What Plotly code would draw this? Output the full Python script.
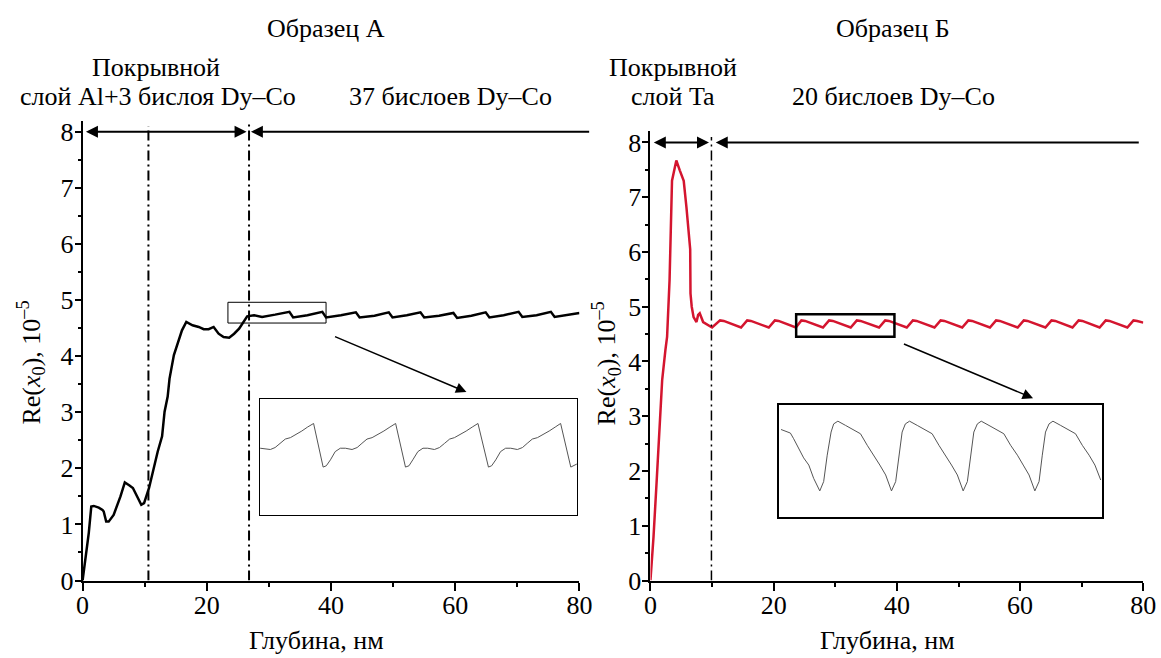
import plotly.graph_objects as go

# ---------------- data ----------------
# Sample A (black)
left_depth = [0, 0.48, 1.0, 1.4, 1.8, 2.6, 3.2, 3.4, 3.8, 4.2,
              5.0, 6.1, 6.8, 7.5, 8.1, 9.45, 9.9, 10.7, 11.5, 12.1,
              12.8, 13.2, 13.7, 14.0, 14.7, 15.3, 16.0, 16.7, 17.7, 18.7,
              19.5, 20.3, 21.1, 21.9, 22.7, 23.6, 24.4, 25.2, 26.0, 26.5,
              27.6, 28.9, 31.0, 33.3, 33.9, 36.2, 38.6, 39.2, 41.6, 44.0,
              44.6, 47.0, 49.3, 49.9, 52.2, 54.4, 55.0, 57.4, 59.7, 60.3,
              62.6, 64.9, 65.5, 67.8, 70.2, 70.8, 73.1, 75.4, 76.0, 78.0,
              80.0]
left_re = [0, 0.43, 0.85, 1.32, 1.33, 1.30, 1.26, 1.23, 1.05, 1.05,
           1.17, 1.5, 1.75, 1.7, 1.65, 1.35, 1.38, 1.65, 2.03, 2.3,
           2.57, 3.01, 3.28, 3.6, 4.02, 4.23, 4.46, 4.61, 4.55, 4.52,
           4.48, 4.48, 4.52, 4.40, 4.34, 4.33, 4.40, 4.49, 4.64, 4.71,
           4.73, 4.70, 4.74, 4.79, 4.69, 4.73, 4.79, 4.69, 4.73, 4.78,
           4.69, 4.72, 4.78, 4.69, 4.73, 4.78, 4.69, 4.72, 4.77, 4.68,
           4.72, 4.78, 4.69, 4.73, 4.79, 4.70, 4.73, 4.79, 4.70, 4.74,
           4.77]

# Sample B (red)
right_depth = [0, 0.5, 1.0, 1.5, 1.9, 2.43, 2.7, 3.1, 3.5, 3.8,
               4.2, 4.76, 5.4, 5.84, 6.45, 6.5, 6.7, 7.0, 7.47, 7.74,
               8.0, 8.55, 9.2, 10.0,
               11.3, 11.9, 14.7, 15.7, 16.3, 19.2, 20.2, 20.8, 23.6,
               24.5, 25.1, 28.0, 29.0, 29.6, 32.5, 33.5, 34.1, 37.1,
               38.1, 38.7, 41.6, 42.6, 43.2, 46.1, 47.1, 47.7, 50.6,
               51.6, 52.2, 55.1, 56.1, 56.7, 59.6, 60.6, 61.2, 64.1,
               65.1, 65.7, 68.5, 69.5, 70.1, 72.9, 73.9, 74.5, 77.4,
               78.4, 79.0, 80.0]
right_re = [0, 0.8, 1.8, 2.9, 3.66, 4.21, 4.45, 5.48, 7.30, 7.46,
            7.67, 7.49, 7.30, 6.82, 6.05, 5.24, 5.0, 4.81, 4.72, 4.85,
            4.88, 4.72, 4.67, 4.62,
            4.75, 4.74, 4.62, 4.75, 4.74, 4.62, 4.75, 4.74, 4.62,
            4.75, 4.74, 4.62, 4.75, 4.74, 4.62, 4.75, 4.74, 4.62,
            4.75, 4.74, 4.62, 4.75, 4.74, 4.62, 4.75, 4.74, 4.62,
            4.75, 4.74, 4.62, 4.75, 4.74, 4.62, 4.75, 4.74, 4.62,
            4.75, 4.74, 4.62, 4.75, 4.74, 4.62, 4.75, 4.74, 4.62,
            4.75, 4.74, 4.71]

# Inset A (zoomed sawtooth, arbitrary units)
inset_a_x = [0.2, 3.4, 4.9, 6.5, 8.1, 9.7, 11.2, 13.3, 15.1, 17.0,
             20.0, 21.0, 22.3, 23.8, 25.4, 27.0, 29.1, 30.7, 32.2, 33.8,
             35.4, 37.0, 39.1, 41.0, 42.8, 45.9, 47.0, 48.2, 49.8, 51.4,
             52.9, 55.0, 56.6, 58.2, 59.8, 61.3, 62.9, 65.0, 66.9, 68.7,
             72.0, 73.0, 74.3, 75.8, 77.4, 79.0, 81.1, 82.7, 84.2, 85.8,
             87.4, 89.0, 91.1, 93.0, 94.7, 97.9, 99.8]
inset_a_y = [5.74, 5.63, 5.80, 6.16, 6.53, 6.65, 6.88, 7.22, 7.56, 7.87,
             4.12, 4.23, 4.74, 5.45, 5.74, 5.74, 5.63, 5.80, 6.16, 6.53,
             6.65, 6.88, 7.22, 7.56, 7.87, 4.12, 4.23, 4.74, 5.45, 5.74,
             5.74, 5.63, 5.80, 6.16, 6.53, 6.65, 6.88, 7.22, 7.56, 7.87,
             4.12, 4.23, 4.74, 5.45, 5.74, 5.74, 5.63, 5.80, 6.16, 6.53,
             6.65, 6.88, 7.22, 7.56, 7.87, 4.12, 4.38]

# Inset B (zoomed sawtooth, arbitrary units)
inset_b_x = [0.5, 3.4, 4.4, 6.0, 7.5, 9.1, 10.6, 12.5, 13.7, 14.8,
             16.0, 16.8, 18.1, 20.5, 23.0, 25.1, 27.2, 29.2, 31.1, 32.9,
             34.7, 36.0, 37.0, 38.0, 39.0, 40.3, 42.7, 45.2, 47.3, 49.4,
             51.4, 53.3, 55.1, 56.9, 58.2, 59.2, 60.2, 61.3, 62.5, 64.9,
             67.5, 69.5, 71.6, 73.7, 75.5, 77.3, 79.1, 80.4, 81.4, 82.4,
             83.5, 84.7, 87.1, 89.7, 91.7, 93.8, 95.9, 97.7, 99.5]
inset_b_y = [7.79, 7.47, 6.97, 6.09, 5.26, 4.62, 3.44, 2.32, 3.15, 5.5,
             7.56, 8.29, 8.53, 8.15, 7.71, 7.41, 6.38, 5.5, 4.62, 3.74,
             2.32, 3.15, 5.5, 7.56, 8.29, 8.53, 8.15, 7.71, 7.41, 6.38,
             5.5, 4.62, 3.74, 2.32, 3.15, 5.5, 7.56, 8.29, 8.53, 8.15,
             7.71, 7.41, 6.38, 5.5, 4.62, 3.74, 2.32, 3.15, 5.5, 7.56,
             8.29, 8.53, 8.15, 7.71, 7.41, 6.38, 5.5, 4.62, 3.29]

x_ticks = [0, 20, 40, 60, 80]
y_ticks = [0, 1, 2, 3, 4, 5, 6, 7, 8]

# ---------------- layout helpers ----------------
W, H = 1161, 658
FONT = "Liberation Serif, Times New Roman, serif"
RED = "#d4152f"
FS = 26
# empirical correction of the photographed page scale
SX, OX = 0.983, 6.4
SY, OY = 0.979, 1.7


def px(x):
    return ((x - OX) / SX) / W


def py(y):
    return 1 - ((y - OY) / SY) / H


fig = go.Figure()
fig.add_trace(go.Scatter(x=left_depth, y=left_re, mode="lines",
                         line=dict(color="black", width=2.5), xaxis="x", yaxis="y"))
fig.add_trace(go.Scatter(x=right_depth, y=right_re, mode="lines",
                         line=dict(color=RED, width=2.5), xaxis="x2", yaxis="y2"))
fig.add_trace(go.Scatter(x=inset_a_x, y=inset_a_y, mode="lines",
                         line=dict(color="#555555", width=1), xaxis="x3", yaxis="y3"))
fig.add_trace(go.Scatter(x=inset_b_x, y=inset_b_y, mode="lines",
                         line=dict(color="#555555", width=1), xaxis="x4", yaxis="y4"))

tickfont = dict(family=FONT, size=FS, color="black")


def main_x(domain, anchor):
    return dict(domain=domain, range=[0, 80], anchor=anchor, showline=True,
                linecolor="black", linewidth=2, ticks="outside", ticklen=8,
                tickwidth=2, tickcolor="black", tickvals=x_ticks,
                ticklabelstandoff=-8,
                minor=dict(dtick=10, tick0=0, ticks="outside", ticklen=4,
                           tickwidth=2, tickcolor="black"),
                showgrid=False, zeroline=False, tickfont=tickfont)


def main_y(domain, anchor):
    return dict(domain=domain, range=[0, 8.2], anchor=anchor, showline=True,
                linecolor="black", linewidth=2, ticks="outside", ticklen=6,
                tickwidth=2, tickcolor="black", tickvals=y_ticks,
                ticklabelstandoff=-4,
                minor=dict(dtick=0.5, tick0=0, ticks="outside", ticklen=3,
                           tickwidth=2, tickcolor="black"),
                showgrid=False, zeroline=False, tickfont=tickfont)


def inset_axis(domain, anchor, rng, lw):
    return dict(domain=domain, range=rng, anchor=anchor, showline=True,
                mirror=True, linecolor="black", linewidth=lw, ticks="",
                showticklabels=False, showgrid=False, zeroline=False)


fig.update_layout(
    width=W, height=H, margin=dict(l=0, r=0, t=0, b=0, pad=0),
    autosize=False,
    paper_bgcolor="white", plot_bgcolor="white", showlegend=False,
    font=dict(family=FONT, size=FS, color="black"),
    xaxis=main_x([px(82), px(579)], "y"),
    yaxis=main_y([py(583), py(120)], "x"),
    xaxis2=main_x([px(650), px(1143)], "y2"),
    yaxis2=main_y([py(583), py(131)], "x2"),
    xaxis3=inset_axis([px(259), px(577)], "y3", [0, 100], 1),
    yaxis3=inset_axis([py(517), py(400)], "x3", [0, 10], 1),
    xaxis4=inset_axis([px(779), px(1102)], "y4", [0, 100], 1.5),
    yaxis4=inset_axis([py(519), py(406)], "x4", [0, 10], 1.5),
)

shapes = [
    # dash-dot boundaries
    dict(type="line", xref="x", yref="y", x0=10.6, x1=10.6, y0=0, y1=8.1,
         line=dict(color="black", width=2, dash="10px,4px,2px,4px")),
    dict(type="line", xref="x", yref="y", x0=26.8, x1=26.8, y0=0, y1=8.15,
         line=dict(color="black", width=2, dash="10px,4px,2px,4px")),
    dict(type="line", xref="x2", yref="y2", x0=9.9, x1=9.9, y0=0, y1=8.1,
         line=dict(color="black", width=1.5, dash="10px,4px,2px,4px")),
    # zoom rectangles
    dict(type="rect", xref="x", yref="y", x0=23.4, x1=39.2, y0=4.59, y1=4.96,
         line=dict(color="black", width=1)),
    dict(type="rect", xref="x2", yref="y2", x0=23.65, x1=39.6, y0=4.45, y1=4.86,
         line=dict(color="black", width=2.5)),
]

ann = []


def text(x, y, s, size=FS):
    ann.append(dict(x=px(x), y=py(y), xref="paper", yref="paper", text=s,
                    showarrow=False, xanchor="center", yanchor="middle",
                    font=dict(family=FONT, size=size, color="black")))


text(325, 27, "Образец А")
text(893, 27, "Образец Б")
text(155, 67, "Покрывной")
text(157, 96, "слой Al+3 бислоя Dy–Co")
text(450, 96, "37 бислоев Dy–Co")
text(673, 67, "Покрывной")
text(673, 96, "слой Ta")
text(893, 96, "20 бислоев Dy–Co")
text(316, 643, "Глубина, нм")
text(887, 643, "Глубина, нм")
for xx in (30, 606):
    ann.append(dict(x=px(xx), y=py(364), xref="paper", yref="paper",
                    text="Re(<i>x</i><sub>0</sub>), 10<sup>–5</sup>",
                    textangle=-90, showarrow=False, xanchor="center", yanchor="middle",
                    font=dict(family=FONT, size=FS, color="black")))


def arrow(xr, yr, x, y, ax, ay, side="end", w=2, size=1.2):
    ann.append(dict(x=x, y=y, ax=ax, ay=ay, xref=xr, yref=yr, axref=xr, ayref=yr,
                    text="", showarrow=True, arrowhead=2, arrowside=side,
                    arrowsize=size, arrowwidth=w, arrowcolor="black"))


arrow("x", "y", 26.4, 8, 0.3, 8, side="end+start")
arrow("x", "y", 27.1, 8, 81.8, 8)
arrow("x2", "y2", 9.5, 8, 0.3, 8, side="end+start")
arrow("x2", "y2", 10.6, 8, 79.5, 8)
arrow("x", "y", 61.8, 3.36, 40.4, 4.36, w=1.5, size=1.4)
arrow("x2", "y2", 62.1, 3.33, 40.9, 4.33, w=1.5, size=1.4)

fig.update_layout(shapes=shapes, annotations=ann)
fig.write_html("out.html")
